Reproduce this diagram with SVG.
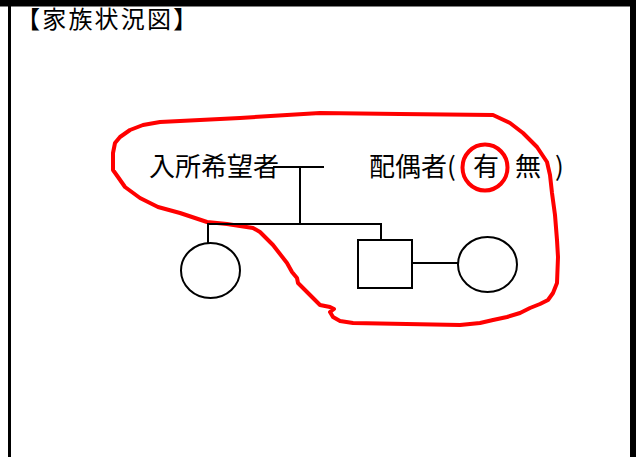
<svg xmlns="http://www.w3.org/2000/svg" width="637" height="457" viewBox="0 0 637 457">
<style>
  .t { font-family: "Noto Sans CJK JP", "Noto Sans", sans-serif; fill: #000; }
  .ln { stroke: #000; stroke-width: 2; fill: none; }
  .red { stroke: #ff0000; stroke-width: 4; fill: none; stroke-linejoin: round; stroke-linecap: round; }
</style>
<rect width="637" height="457" fill="#fff"/>
<g id="frame">
  <rect x="0" y="0" width="633" height="6.5" fill="#000"/>
  <rect x="8" y="6" width="3" height="451" fill="#000"/>
  <rect x="630" y="0" width="6" height="457" fill="#000"/>
</g>
<g id="title">
  <text class="t" x="16" y="28" font-size="24" letter-spacing="2.2">【家族状況図】</text>
</g>
<g id="enclosure">
  <path class="red" d="M113,170 L113,153 L115,143 L120,137 L130,130 L143,125 L160,122 L200,120 L240,118 L287,115 L320,113 L400,114 L493,115 L510,123 L523,133 L537,147 L547,162 L550,175 L552,193 L555,215 L557,240 L558,257 L557,283 L553,293 L548,300 L540,304 L530,308 L520,313 L507,317 L493,320 L480,323 L460,325 L353,323 L340,321 L333,317 L330,312 L334,309 L330,307 L320,305 L315,300 L307,292 L298,283 L297,278 L292,272 L287,263 L273,245 L260,232 L253,228 L227,224 L207,222 L180,213 L158,207 L140,198 L125,187 L118,177 Z"/>
</g>
<g id="applicant">
  <text class="t" x="149" y="176" font-size="26">入所希望者</text>
</g>
<g id="spouse-label">
  <text class="t" x="369" y="176" font-size="26">配偶者(</text>
  <text class="t" x="473" y="176" font-size="26">有</text>
  <text class="t" x="515" y="176" font-size="26">無</text>
  <text class="t" x="555" y="176" font-size="26">)</text>
</g>
<g id="yes-mark">
  <ellipse class="red" cx="485" cy="167.5" rx="22.5" ry="23" stroke-width="5"/>
</g>
<g id="child-female">
  <ellipse class="ln" cx="210.5" cy="270.5" rx="29.5" ry="27.5"/>
</g>
<g id="child-male">
  <rect class="ln" x="358" y="240" width="54" height="48"/>
</g>
<g id="child-spouse">
  <ellipse class="ln" cx="487.5" cy="264.5" rx="29.5" ry="27.5"/>
</g>
<g id="connectors">
  <line class="ln" x1="273" y1="167" x2="324" y2="167"/>
  <line class="ln" x1="300" y1="167" x2="300" y2="224"/>
  <polyline class="ln" points="208,243 208,224 381,224 381,241"/>
  <line class="ln" x1="412" y1="263" x2="458" y2="263"/>
</g>
</svg>
